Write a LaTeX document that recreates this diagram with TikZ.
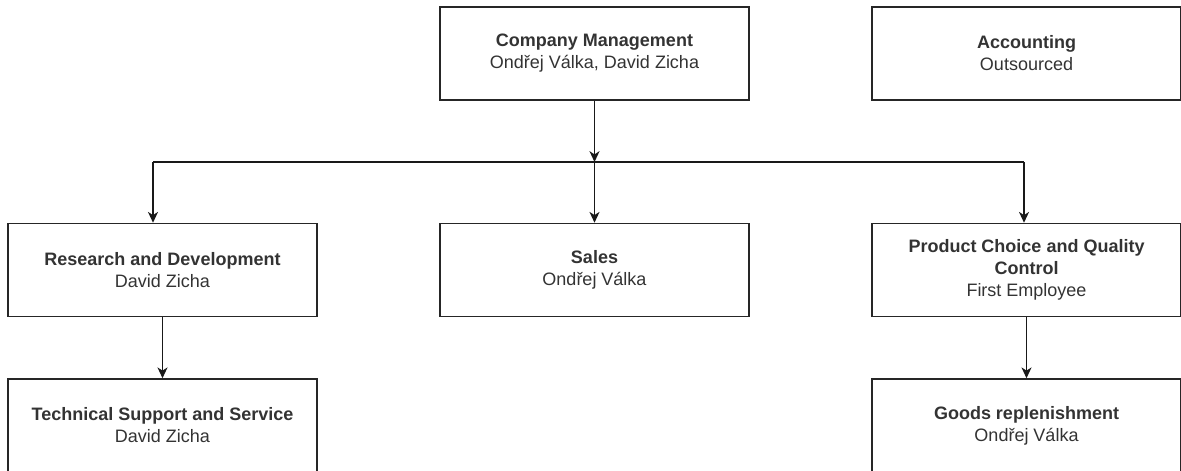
\documentclass[tikz,border=0pt]{standalone}
\usepackage{fontspec}
\setmainfont{Liberation Sans}
\usetikzlibrary{arrows.meta}

\tikzset{
  unit/.style={draw=black!85, line width=1.1pt, minimum width=7.725cm, minimum height=2.325cm,
    align=center, text=black!80, font=\fontsize{12.8pt}{15.6pt}\selectfont},
  link/.style={draw=black!90, line width=1.1pt, -{Stealth[length=0.27cm, width=0.25cm, inset=0.08cm]}},
  bus/.style={draw=black!90, line width=1.1pt}
}

\begin{document}
\begin{tikzpicture}[x=0.025cm, y=-0.025cm]
\useasboundingbox (0,0) rectangle (1181,470);

\node[unit] (mgmt) at (594.5,53.5) {\textbf{Company Management}\\Ondřej Válka, David Zicha};
\node[unit] (acct) at (1026.5,53.5) {\textbf{Accounting}\\Outsourced};
\node[unit] (rnd) at (162.5,270) {\textbf{Research and Development}\\David Zicha};
\node[unit] (sales) at (594.5,270) {\textbf{Sales}\\Ondřej Válka};
\node[unit] (pqc) at (1026.5,270) {\textbf{Product Choice and Quality}\\\textbf{Control}\\First Employee};
\node[unit] (tech) at (162.5,425.5) {\textbf{Technical Support and Service}\\David Zicha};
\node[unit] (goods) at (1026.5,425.5) {\textbf{Goods replenishment}\\Ondřej Válka};

\coordinate (hub) at (594.5,162);
\coordinate (hubL) at (153,162);
\coordinate (hubR) at (1024,162);

\draw[link] (mgmt) -- (hub);
\draw[bus] (hubL) -- (hubR);
\draw[link] (hubL) -- (hubL |- rnd.north);
\draw[link] (hub) -- (sales);
\draw[link] (hubR) -- (hubR |- pqc.north);
\draw[link] (rnd) -- (tech);
\draw[link] (pqc) -- (goods);
\end{tikzpicture}
\end{document}
